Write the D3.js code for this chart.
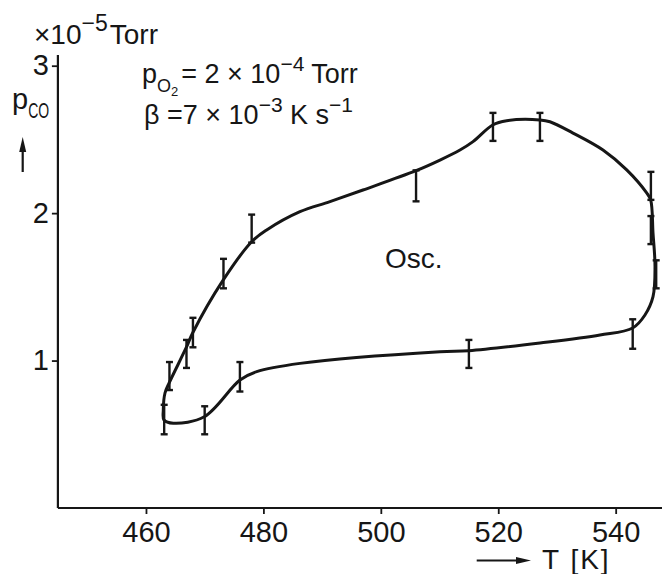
<!DOCTYPE html>
<html>
<head>
<meta charset="utf-8">
<script src="https://cdn.jsdelivr.net/npm/d3@7"></script>
<style>
body { margin:0; background:white; }
text { font-family: "Liberation Sans", Arial, sans-serif; fill:#161616; }
</style>
</head>
<body>
<script>

// Data

var tTicks = [460, 480, 500, 520, 540],
	pTicks = [1, 2, 3];

// error bars: temperature, lower and upper pressure (1e-5 Torr)
var barT  = [463.1, 464.0, 466.9, 468.0, 473.2, 478.0, 506.0, 519.1, 527.1, 546.0, 546.0, 546.9, 542.9, 515.0, 476.0, 470.0],
	barLo = [0.50, 0.80, 0.95, 1.09, 1.49, 1.80, 2.08, 2.49, 2.49, 2.09, 1.79, 1.49, 1.08, 0.95, 0.79, 0.50],
	barHi = [0.70, 0.99, 1.14, 1.29, 1.69, 1.99, 2.29, 2.68, 2.68, 2.28, 1.98, 1.68, 1.28, 1.14, 0.99, 0.69];

// hysteresis loop
var curveT = [462.95, 463.24, 463.97, 466.93, 467.95, 473.17, 478.0, 480.56, 486.23, 491.34, 496.96, 505.99,
		510.08, 513.48, 515.7, 519.05, 521.44, 527.1, 528.8, 532.73, 537.84, 541.88, 545.28, 545.96, 546.36,
		546.7, 546.36, 544.99, 542.9, 537.33, 527.11, 514.97, 510.08, 486.23, 478.86, 476.01, 469.93, 464.65, 463.07],
	curveP = [0.665, 0.78, 0.85, 1.094, 1.187, 1.547, 1.806, 1.886, 2.01, 2.078, 2.157, 2.288,
		2.36, 2.428, 2.485, 2.598, 2.627, 2.632, 2.62, 2.543, 2.428, 2.293, 2.137, 2.09, 1.865,
		1.637, 1.433, 1.309, 1.221, 1.173, 1.119, 1.067, 1.06, 0.981, 0.925, 0.868, 0.619, 0.575, 0.597];


// Drawing

var W = 662, H = 574;

var svg = d3.select("body").append("svg")
	.attr("width", W)
	.attr("height", H);

var X = d3.scaleLinear().domain([445, 553]).range([57.9, 692]);
var Y = d3.scaleLinear().domain([0, 3]).range([508, 65.7]);

var ink = "#161616";

// axes
var xAxis = svg.append("g")
	.attr("transform", "translate(0," + Y(0) + ")")
	.call(d3.axisBottom(X).tickValues(tTicks).tickSize(6).tickPadding(5).tickFormat(d3.format("d")));

var yAxis = svg.append("g")
	.attr("transform", "translate(" + X(445) + ",0)")
	.call(d3.axisLeft(Y).tickValues(pTicks).tickSize(6).tickPadding(3).tickFormat(d3.format("d")));

svg.selectAll(".domain").remove();
svg.selectAll(".tick line").style("stroke", ink).style("stroke-width", 1.8);

xAxis.selectAll("text").attr("y", 13).attr("dy", "0.71em")
	.style("font-size", "29px").style("fill", ink);
yAxis.selectAll("text").style("font-size", "29px").style("fill", ink);

svg.append("line")
	.attr("x1", X(445)).attr("x2", W)
	.attr("y1", Y(0)).attr("y2", Y(0))
	.style("stroke", ink).style("stroke-width", 2.2);

svg.append("line")
	.attr("x1", X(445)).attr("x2", X(445))
	.attr("y1", 55).attr("y2", Y(0))
	.style("stroke", ink).style("stroke-width", 2.2);

// loop
var pts = d3.range(curveT.length).map(function(i){ return [curveT[i], curveP[i]]; });

svg.append("path")
	.datum(pts)
	.attr("d", d3.line()
		.x(function(d){ return X(d[0]); })
		.y(function(d){ return Y(d[1]); })
		.curve(d3.curveCatmullRomClosed.alpha(0.5)))
	.style("fill", "none")
	.style("stroke", ink)
	.style("stroke-width", 3);

// error bars
var bars = svg.selectAll(".ebar").data(d3.range(barT.length)).enter().append("g")
	.attr("class", "ebar");

bars.append("line")
	.attr("x1", function(i){ return X(barT[i]); })
	.attr("x2", function(i){ return X(barT[i]); })
	.attr("y1", function(i){ return Y(barLo[i]); })
	.attr("y2", function(i){ return Y(barHi[i]); })
	.style("stroke", ink).style("stroke-width", 2.4);

[barLo, barHi].forEach(function(arr){
	bars.append("line")
		.attr("x1", function(i){ return X(barT[i]) - 3.5; })
		.attr("x2", function(i){ return X(barT[i]) + 3.5; })
		.attr("y1", function(i){ return Y(arr[i]); })
		.attr("y2", function(i){ return Y(arr[i]); })
		.style("stroke", ink).style("stroke-width", 2.4);
});

// labels

var unit = svg.append("text").attr("x", 34).attr("y", 44).style("font-size", "28px");
unit.append("tspan").text("×10");
unit.append("tspan").attr("dy", -13).style("font-size", "23px").text("−5");
unit.append("tspan").attr("dy", 13).attr("dx", 2).text("Torr");

var pco = svg.append("text").attr("x", 12).attr("y", 109).style("font-size", "29px");
pco.append("tspan").text("p");
pco.append("tspan").attr("dy", 9).attr("textLength", 21).attr("lengthAdjust", "spacingAndGlyphs")
	.style("font-size", "22px").text("CO");

// up arrow
svg.append("line").attr("x1", 22.7).attr("x2", 22.7).attr("y1", 172).attr("y2", 150)
	.style("stroke", ink).style("stroke-width", 2.2);
svg.append("path").attr("d", "M22.7,137 L19.2,152 L26.2,152 Z").style("fill", ink);

var po2 = svg.append("text").attr("x", 142).attr("y", 83).style("font-size", "27px");
po2.append("tspan").text("p");
po2.append("tspan").attr("dy", 9).style("font-size", "18px").text("O");
po2.append("tspan").attr("dy", 4).style("font-size", "13px").text("2");
po2.append("tspan").attr("dy", -13).attr("dx", 3).text("= 2 × 10");
po2.append("tspan").attr("dy", -12).style("font-size", "21px").text("−4");
po2.append("tspan").attr("dy", 12).text(" Torr");

var beta = svg.append("text").attr("x", 144).attr("y", 124).style("font-size", "27px");
beta.append("tspan").text("β =7 × 10");
beta.append("tspan").attr("dy", -12).style("font-size", "21px").text("−3");
beta.append("tspan").attr("dy", 12).text(" K s");
beta.append("tspan").attr("dy", -12).style("font-size", "21px").text("−1");

svg.append("text").attr("x", 385).attr("y", 268).style("font-size", "28px").text("Osc.");

// T axis title with arrow
svg.append("line").attr("x1", 476.7).attr("x2", 520).attr("y1", 560.5).attr("y2", 560.5)
	.style("stroke", ink).style("stroke-width", 2.2);
svg.append("path").attr("d", "M531,560.5 L516,557 L516,564 Z").style("fill", ink);
svg.append("text").attr("x", 542).attr("y", 569).style("font-size", "28px")
	.style("letter-spacing", "2px").text("T [K]");

</script>
</body>
</html>
